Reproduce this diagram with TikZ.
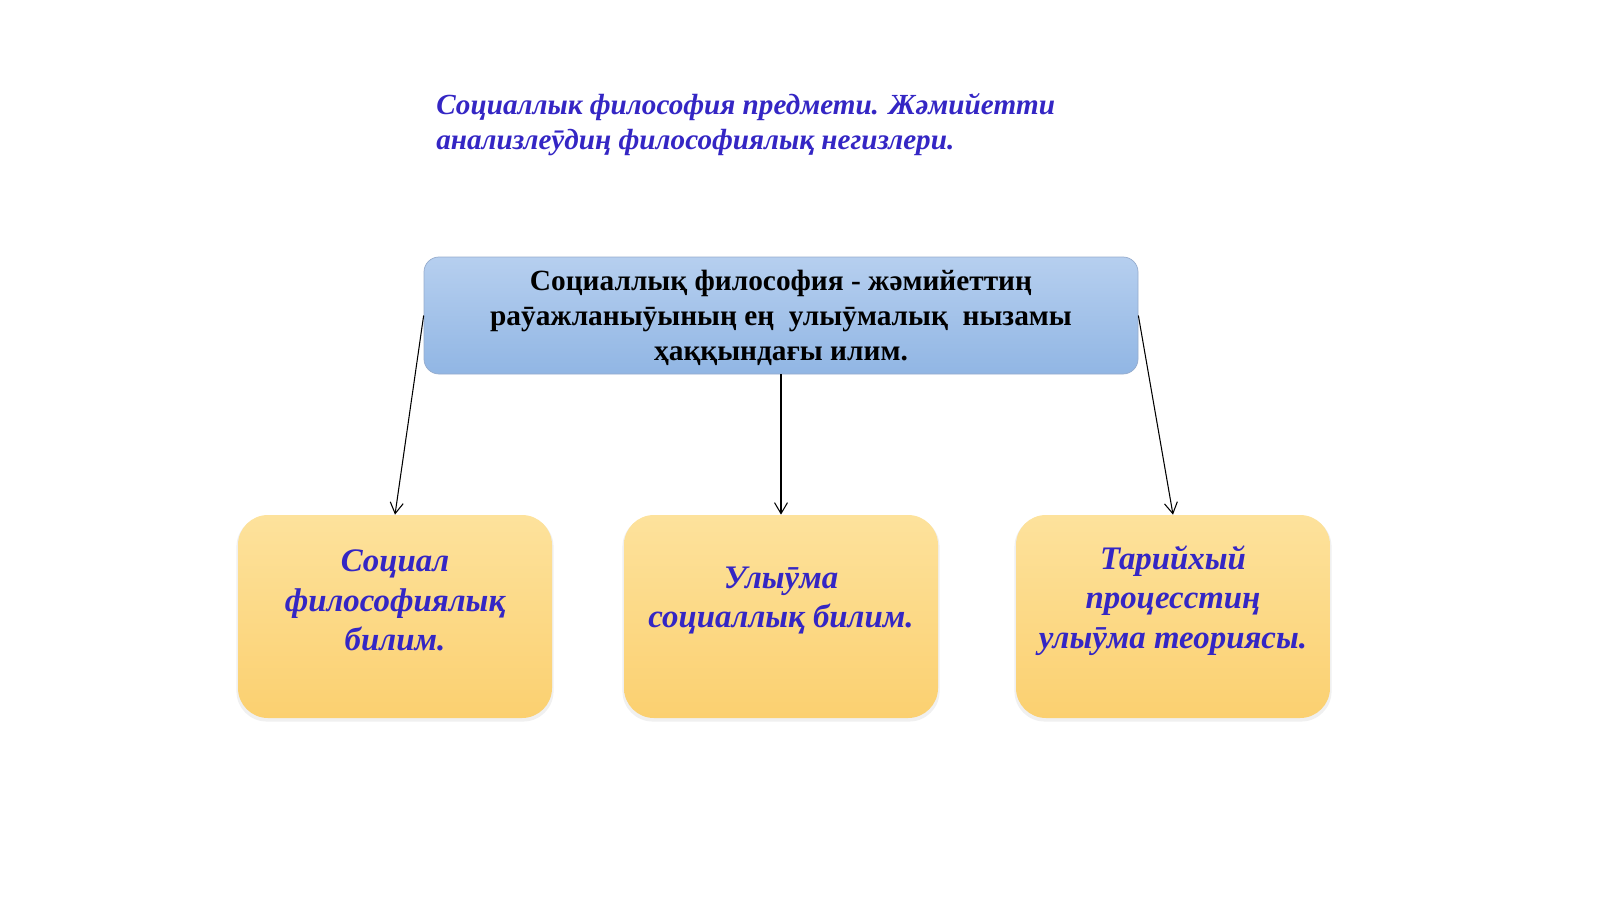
\documentclass[tikz,border=0pt]{standalone}
\usepackage{fontspec}
\setmainfont{Liberation Serif}
\usetikzlibrary{arrows.meta, shadows, positioning}
\definecolor{title_blue}{RGB}{52,38,196}
\definecolor{head_top}{RGB}{182,207,239}
\definecolor{head_bottom}{RGB}{145,182,228}
\definecolor{head_edge}{RGB}{150,172,205}
\definecolor{leaf_top}{RGB}{253,226,156}
\definecolor{leaf_bottom}{RGB}{251,208,112}

\begin{document}
\begin{tikzpicture}[x=0.2mm, y=-0.2mm, >={Straight Barb[length=2.2mm, width=2.6mm]},
    headbox/.style={rectangle, rounded corners=3mm, draw=head_edge, top color=head_top, bottom color=head_bottom, minimum width=142.8mm, minimum height=23.4mm, inner sep=0pt, align=center, font=\bfseries\fontsize{16.7}{19.8}\selectfont},
    leafbox/.style={rectangle, rounded corners=6mm, top color=leaf_top, bottom color=leaf_bottom, minimum width=62.8mm, minimum height=40.6mm, drop shadow={opacity=0.12, shadow xshift=0mm, shadow yshift=-0.5mm, shadow scale=1.01}},
    leaftext/.style={align=center, text=title_blue, inner sep=0pt, font=\bfseries\itshape\fontsize{18.7}{22.4}\selectfont}]
  \useasboundingbox (0,0) rectangle (1600,899);
  % title
  \node[anchor=base west, align=left, inner sep=0pt, text=title_blue, font=\bfseries\itshape\fontsize{16.6}{19.8}\selectfont] (title) at (436,149) {Социаллык философия предмети. Жәмийетти\\анализлеӯдиң философиялық негизлери.};
  % head box
  \node[headbox] (head) at (781,315.5) {\rule{0pt}{5mm}Социаллық философия - жәмийеттиң\\раӯажланыӯының ең \ улыӯмалық \ нызамы\\ҳаққындағы илим.};
  % leaf boxes
  \node[leafbox] (soc) at (395,616.5) {};
  \node[leafbox] (gen) at (781,616.5) {};
  \node[leafbox] (hist) at (1173,616.5) {};
  \node[leaftext] (socT) at ([yshift=3.2mm]soc.center) {Социал\\философиялық\\билим.};
  \node[leaftext] (genT) at ([yshift=3.2mm]gen.center) {Улыӯма\\социаллық билим.};
  \node[leaftext] (histT) at ([yshift=3.2mm]hist.center) {Тарийхый\\процесстиң\\улыӯма теориясы.};
  \draw[->, line width=0.6pt] (head.west) -- (soc.north);
  \draw[->, line width=0.6pt] (head.south) -- (gen.north);
  \draw[->, line width=0.6pt] (head.east) -- (hist.north);
\end{tikzpicture}
\end{document}
